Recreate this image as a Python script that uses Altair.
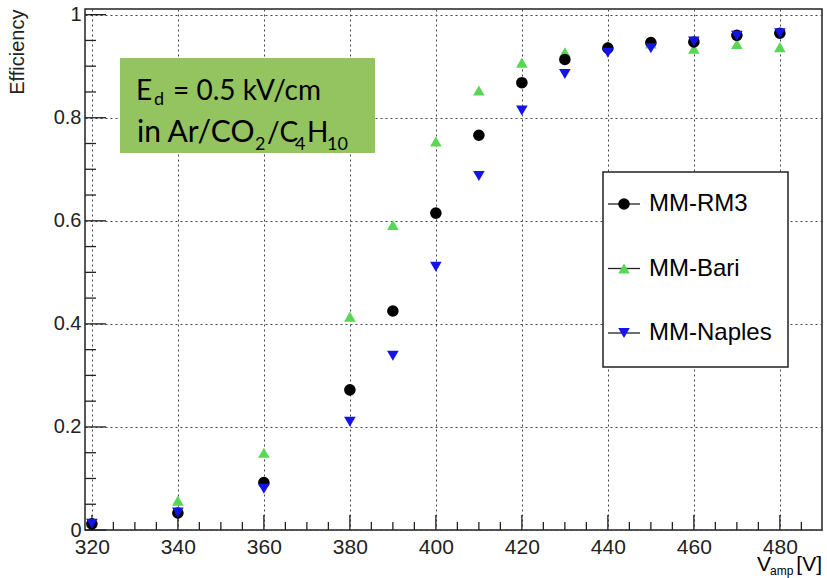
import altair as alt
import pandas as pd

# Amplification voltage scan (V) and measured efficiency of each chamber
voltage = [320, 340, 360, 380, 390, 400, 410, 420, 430, 440, 450, 460, 470, 480]
eff_rm3 = [0.012, 0.033, 0.092, 0.272, 0.425, 0.615, 0.766, 0.868, 0.913, 0.935, 0.946, 0.947, 0.960, 0.964]
eff_bari = [0.015, 0.057, 0.150, 0.414, 0.592, 0.754, 0.853, 0.907, 0.927, 0.940, 0.944, 0.934, 0.943, 0.937]
eff_naples = [0.012, 0.034, 0.080, 0.210, 0.338, 0.511, 0.687, 0.814, 0.885, 0.926, 0.935, 0.948, 0.959, 0.964]

series_names = ["MM-RM3", "MM-Bari", "MM-Naples"]
series_colors = ["#000000", "#5ad656", "#1414e6"]
series_shapes = ["circle", "triangle-up", "triangle-down"]

x_major = [320, 340, 360, 380, 400, 420, 440, 460, 480]
y_major = [0, 0.2, 0.4, 0.6, 0.8, 1.0]

W, H = 737, 521
X_DOMAIN = [318.4, 489.8]
Y_DOMAIN = [0, 1.011]
LABEL_FONT = "Liberation Sans"
BOX_FONT = "Lato"

# draw order: Bari underneath, Naples on top
frames = []
for order, (name, vals) in enumerate([("MM-Bari", eff_bari), ("MM-RM3", eff_rm3), ("MM-Naples", eff_naples)]):
    frames.append(pd.DataFrame({"V": voltage, "E": vals, "series": name, "draw": order}))
df = pd.concat(frames, ignore_index=True)

x_enc = alt.X(
    "V:Q",
    scale=alt.Scale(domain=X_DOMAIN, nice=False, zero=False),
    axis=alt.Axis(
        values=x_major, grid=True, ticks=False, domain=False, title=None,
        labelFont=LABEL_FONT, labelFontSize=21, labelColor="#222", labelPadding=6,
        gridDash=[2, 3], gridColor="#444", gridWidth=1, labelFlush=False,
    ),
)
y_enc = alt.Y(
    "E:Q",
    scale=alt.Scale(domain=Y_DOMAIN, nice=False, zero=False),
    axis=alt.Axis(
        values=y_major, grid=True, ticks=False, domain=False, format="~g",
        labelFont=LABEL_FONT, labelFontSize=20, labelColor="#222", labelPadding=4,
        gridDash=[2, 3], gridColor="#444", gridWidth=1, labelFlush=False,
        title="Efficiency", titleFont=LABEL_FONT, titleFontSize=20, titleFontWeight="normal",
        titleColor="#222", titleAngle=-90, titleAlign="right", titleBaseline="alphabetic",
        titleX=-62, titleY=0,
    ),
)

points = alt.Chart(df).mark_point(filled=True, size=135, opacity=1).encode(
    x=x_enc,
    y=y_enc,
    color=alt.Color("series:N", scale=alt.Scale(domain=series_names, range=series_colors), legend=None),
    shape=alt.Shape("series:N", scale=alt.Scale(domain=series_names, range=series_shapes), legend=None),
    order=alt.Order("draw:Q"),
)

# inward-pointing tick marks along the bottom and left axes
x_minor = [v for v in range(320, 490, 5) if v % 20]
y_minor = [round(i * 0.05, 2) for i in range(1, 20) if i % 4]

x_ticks_major = alt.Chart(pd.DataFrame({"V": x_major})).mark_rule(color="#222", strokeWidth=1.3).encode(
    x=x_enc, y=alt.value(H), y2=alt.value(H - 15))
x_ticks_minor = alt.Chart(pd.DataFrame({"V": x_minor})).mark_rule(color="#222", strokeWidth=1.3).encode(
    x=x_enc, y=alt.value(H), y2=alt.value(H - 8))
y_ticks_major = alt.Chart(pd.DataFrame({"E": y_major})).mark_rule(color="#222", strokeWidth=1.3).encode(
    y=y_enc, x=alt.value(0), x2=alt.value(21))
y_ticks_minor = alt.Chart(pd.DataFrame({"E": y_minor})).mark_rule(color="#222", strokeWidth=1.3).encode(
    y=y_enc, x=alt.value(0), x2=alt.value(11))

one = pd.DataFrame({"k": [0]})

# green annotation box with the drift field and gas mixture
box = alt.Chart(one).mark_rect(color="#93c460").encode(
    x=alt.value(35), x2=alt.value(290), y=alt.value(49), y2=alt.value(144))


def txt(s, x, y, size, font=BOX_FONT, align="left", baseline="alphabetic"):
    return alt.Chart(pd.DataFrame({"t": [s]})).mark_text(
        font=font, fontSize=size, align=align, baseline=baseline, color="#000"
    ).encode(x=alt.value(x), y=alt.value(y), text="t:N")


box_text = [
    txt("E", 51, 91, 28),
    txt("d", 69, 96, 18),
    txt("= 0.5 kV/cm", 88, 91, 28),
    txt("in Ar/CO", 52, 133, 30),
    txt("2", 170, 141, 18),
    txt("/C", 182, 133, 28),
    txt("4", 210, 141, 18),
    txt("H", 222, 133, 28),
    txt("10", 242, 141, 18),
]

# axis title with subscript
x_title = [
    txt("V", 672, 562, 21, font=LABEL_FONT),
    txt("amp", 685, 566, 12, font=LABEL_FONT),
    txt("[V]", 737, 562, 21, font=LABEL_FONT, align="right"),
]

# legend panel
LEG_L, LEG_R, LEG_T, LEG_B = 518, 703, 163, 358
legend_layers = [
    alt.Chart(one).mark_rect(fill="white", stroke="#222", strokeWidth=1.5).encode(
        x=alt.value(LEG_L), x2=alt.value(LEG_R), y=alt.value(LEG_T), y2=alt.value(LEG_B))
]
for i, (name, col, shp) in enumerate(zip(series_names, series_colors, series_shapes)):
    row_y = LEG_T + 32 + i * 64.5
    legend_layers.append(
        alt.Chart(one).mark_rule(color="#222", strokeWidth=1.3).encode(
            x=alt.value(LEG_L + 5), x2=alt.value(LEG_L + 37), y=alt.value(row_y)))
    legend_layers.append(
        alt.Chart(one).mark_point(filled=True, size=135, opacity=1).encode(
            x=alt.value(LEG_L + 21), y=alt.value(row_y), color=alt.value(col), shape=alt.value(shp)))
    legend_layers.append(txt(name, LEG_L + 46, row_y, 24, font=LABEL_FONT, baseline="middle"))

chart = alt.layer(
    x_ticks_minor, x_ticks_major, y_ticks_minor, y_ticks_major,
    box, *box_text, points, *legend_layers, *x_title,
).properties(
    width=W, height=H,
    autosize=alt.AutoSizeParams(type="none"),
    padding={"left": 85, "top": 9, "right": 5, "bottom": 48},
    background="white",
).configure_view(stroke="#222", strokeWidth=1.5)

chart.save("out.html", embed_options={"renderer": "svg", "actions": False})
